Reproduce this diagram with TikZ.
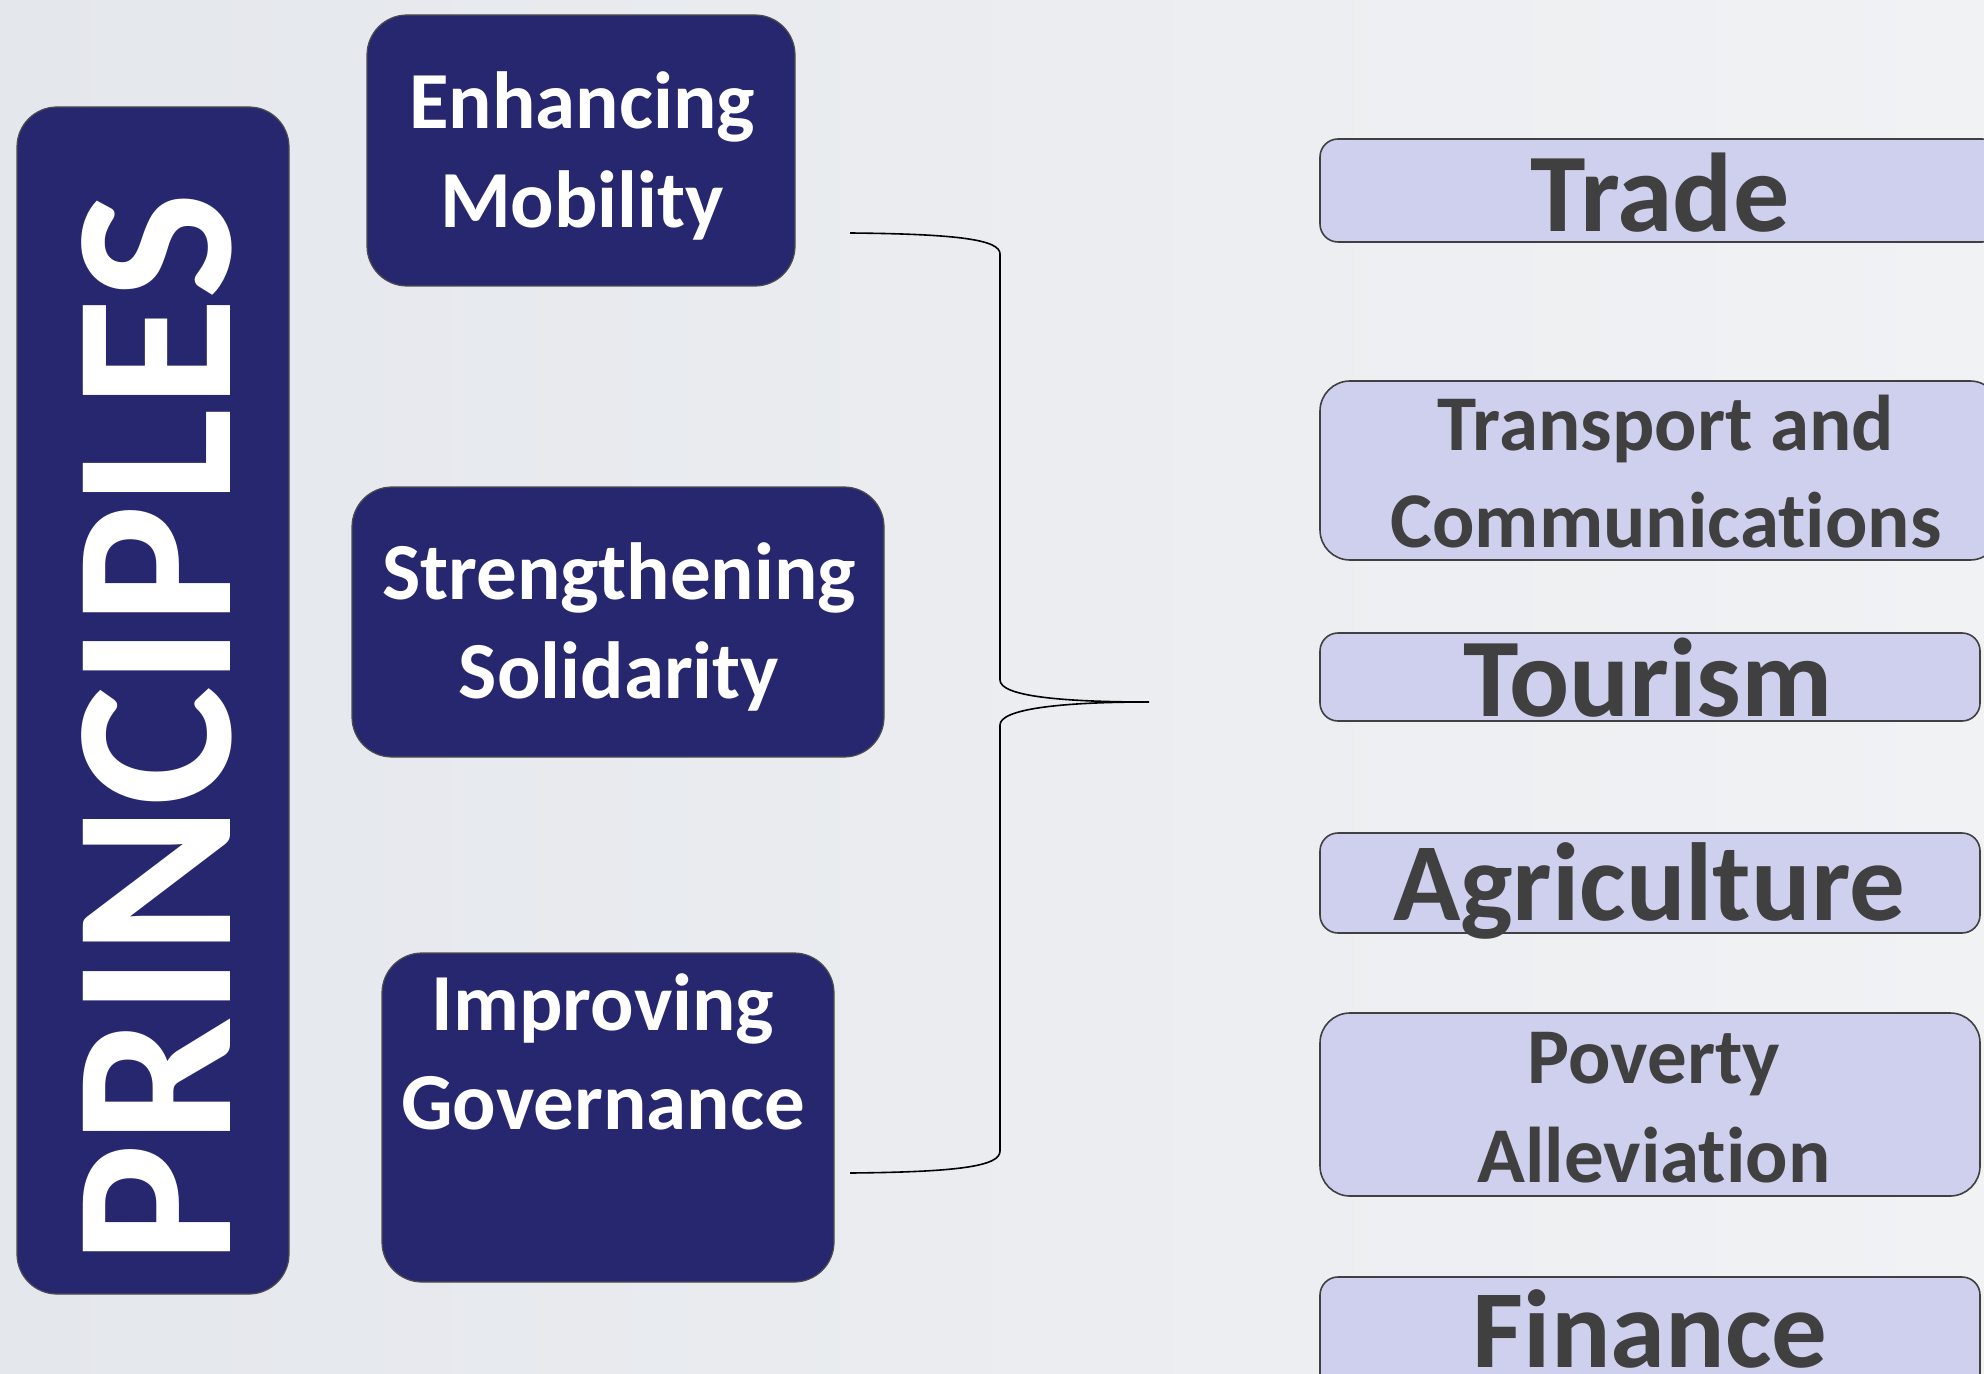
\documentclass[tikz,border=0pt]{standalone}
\usepackage{fontspec}
\setmainfont{Carlito}[Ligatures=NoCommon]
\usetikzlibrary{calc}
\definecolor{navy}{RGB}{39,39,112}
\definecolor{lilac}{RGB}{207,207,238}
\definecolor{ink}{RGB}{64,64,64}
\definecolor{bgleft}{RGB}{228,231,236}
\definecolor{bgright}{RGB}{241,242,244}

\begin{document}
\begin{tikzpicture}[x=0.5pt,y=-0.5pt,
		pbox/.style={draw=black!70, line width=0.6pt, fill=navy, rounded corners=20pt, inner sep=0pt},
		ptext/.style={text=white, font=\bfseries\fontsize{40.5}{49.5}\selectfont, align=center, anchor=base},
		cbox/.style={draw=black!75, line width=0.8pt, fill=lilac, inner sep=0pt, rounded corners=9pt},
		ctext/.style={text=ink, align=center, anchor=base}]
		%%%%% START %%%%%
		
		\useasboundingbox (0,0) rectangle (1984,1374);
		\fill[left color=bgleft, right color=bgright] (0,0) rectangle (1984,1374);
		
		% principles
		\node[pbox, minimum width=136pt, minimum height=593.5pt] (prin) at (153,700.5) {};
		\node[rotate=90, anchor=base, text=white, font=\bfseries\fontsize{113.5}{113.5}\selectfont] (prinlabel) at (230,729) {PRINCIPLES};
		
		\node[pbox, minimum width=214pt, minimum height=135.5pt] (mob) at (581,150.5) {};
		\node[ptext] (mobtext) at (582,228) {Enhancing\\Mobility};
		
		\node[pbox, minimum width=266pt, minimum height=135pt] (sol) at (618,622) {};
		\node[ptext] (soltext) at (619,698) {Strengthening\\Solidarity};
		
		\node[pbox, minimum width=226pt, minimum height=164.5pt] (gov) at (608,1117.5) {};
		\node[ptext] (govtext) at (603,1129) {Improving\\Governance};
		
		% brace
		\coordinate (bt) at (850,233);
		\coordinate (tip) at (1149,702);
		\coordinate (bb) at (850,1173);
		\draw[line width=0.8pt] (bt) .. controls (960,234) and (1000,240) .. (1000,254) -- (1000,680)
			.. controls (1000,696) and (1060,702) .. (tip)
			.. controls (1060,702) and (1000,709) .. (1000,725) -- (1000,1151)
			.. controls (1000,1166) and (960,1172) .. (bb);
		
		% sectors
		\node[cbox, minimum width=340pt, minimum height=51.5pt] (trade) at (1660,190.5) {};
		\node[ctext, font=\bfseries\fontsize{56}{56}\selectfont] (tradetext) at (1660,232) {Trade};
		
		\node[cbox, rounded corners=15pt, minimum width=340pt, minimum height=89.5pt] (trans) at (1660,470.5) {};
		\node[ctext, font=\bfseries\fontsize{39.5}{48.5}\selectfont] (transtext) at (1666,547) {Transport and\\Communications};
		
		\node[cbox, minimum width=330pt, minimum height=44pt] (tour) at (1650,677) {};
		\node[ctext, font=\bfseries\fontsize{56}{56}\selectfont] (tourtext) at (1648,716) {Tourism};
		
		\node[cbox, minimum width=330pt, minimum height=50pt] (agri) at (1650,883) {};
		\node[ctext, font=\bfseries\fontsize{55.5}{55.5}\selectfont] (agritext) at (1649,920) {Agriculture};
		
		\node[cbox, rounded corners=15pt, minimum width=330pt, minimum height=91.5pt] (pov) at (1650,1104.5) {};
		\node[ctext, font=\bfseries\fontsize{39.5}{49.5}\selectfont] (povtext) at (1654,1182) {Poverty\\Alleviation};
		
		\node[cbox, minimum width=330pt, minimum height=61.5pt] (fin) at (1650,1338.5) {};
		\node[ctext, font=\bfseries\fontsize{55.5}{55.5}\selectfont] (fintext) at (1650,1367) {Finance};
		
		%%%%% END %%%%%
	\end{tikzpicture}
\end{document}
